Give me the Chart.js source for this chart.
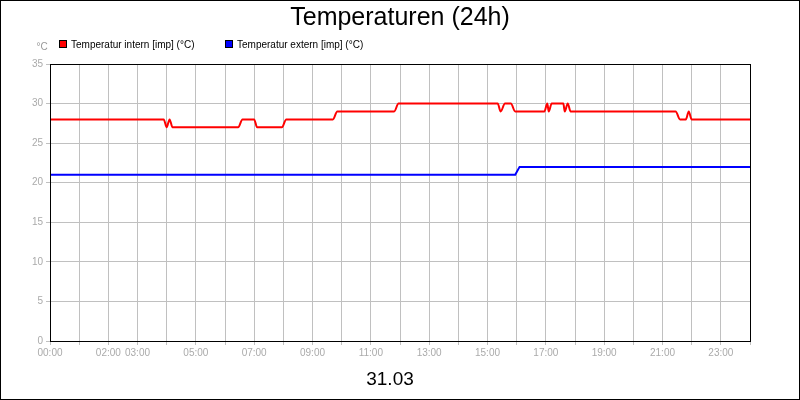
<!DOCTYPE html>
<html>
<head>
<meta charset="utf-8">
<script src="https://cdn.jsdelivr.net/npm/chart.js@4"></script>
<style>
  body { margin: 0; background: #fff; }
  #wrap { width: 800px; height: 400px; box-sizing: border-box; border: 1px solid #000; }
</style>
</head>
<body>
<div id="wrap"><canvas id="c" width="798" height="398"></canvas></div>
<script>
// hours (0-24) and temperatures
const internHours = [0, 3.9, 4.0, 4.1, 4.2, 6.45, 6.6, 7.0, 7.1, 7.95, 8.1, 9.7, 9.85, 11.8, 11.95, 15.35, 15.45, 15.6, 15.8, 15.95, 16.95, 17.05, 17.1, 17.2, 17.6, 17.65, 17.75, 17.85, 21.45, 21.6, 21.8, 21.9, 22.0, 24];
const internTemp  = [28, 28, 27, 28, 27, 27, 28, 28, 27, 27, 28, 28, 29, 29, 30, 30, 29, 30, 30, 29, 29, 30, 29, 30, 30, 29, 30, 29, 29, 28, 28, 29, 28, 28];
const externHours = [0, 15.95, 16.1, 24];
const externTemp  = [21, 21, 22, 22];
const tickHours = [0, 2, 3, 5, 7, 9, 11, 13, 15, 17, 19, 21, 23];
const legendLabels = ["Temperatur intern [imp] (°C)", "Temperatur extern [imp] (°C)"];
const colors = ["#ff0000", "#0000ff"];

const pts = (xs, ys) => xs.map((x, i) => ({ x, y: ys[i] }));
const FONT = "'Liberation Sans', Arial, sans-serif";

//draw title, legend, unit and date
const decor = {
  id: "decor",
  afterDraw(chart) {
    const ctx = chart.ctx;
    const a = chart.chartArea;
    ctx.save();
    ctx.strokeStyle = "#000";
    ctx.lineWidth = 1;
    ctx.strokeRect(a.left + 0.5, a.top + 0.5, a.right - a.left, a.bottom - a.top);
    ctx.fillStyle = "#000";
    ctx.textAlign = "center";
    ctx.textBaseline = "middle";
    ctx.font = "25px " + FONT;
    ctx.fillText("Temperaturen (24h)", 399, 17);
    ctx.font = "19px " + FONT;
    ctx.fillText("31.03", 389, 379);
    ctx.font = "10px " + FONT;
    ctx.fillStyle = "#999";
    ctx.fillText("°C", 41, 46);
    ctx.textAlign = "left";
    let x = 58;
    legendLabels.forEach((l, i) => {
      ctx.fillStyle = "#000";
      ctx.fillRect(x, 39, 8, 8);
      ctx.fillStyle = colors[i];
      ctx.fillRect(x + 1, 40, 6, 6);
      ctx.fillStyle = "#000";
      ctx.fillText(l, x + 12, 44);
      x += 166;
    });
    ctx.restore();
  },
};

new Chart(document.getElementById("c"), {
  type: "line",
  data: {
    datasets: [
      { data: pts(internHours, internTemp), borderColor: colors[0], borderWidth: 2, pointRadius: 0, cubicInterpolationMode: "monotone" },
      { data: pts(externHours, externTemp), borderColor: colors[1], borderWidth: 2, pointRadius: 0, tension: 0 },
    ],
  },
  options: {
    responsive: false,
    animation: false,
    layout: { padding: { top: 63, right: 49, left: 0, bottom: 0 } },
    plugins: { legend: { display: false }, title: { display: false }, tooltip: { enabled: false } },
    scales: {
      x: {
        type: "linear", min: 0, max: 24,
        afterFit: (s) => { s.height = 58; },
        afterBuildTicks: (s) => { s.ticks = Array.from({ length: 25 }, (_, i) => ({ value: i })); },
        ticks: {
          color: "#aaa", font: { size: 10, family: FONT }, maxRotation: 0, autoSkip: false, padding: 2,
          callback: (v) => tickHours.includes(v) ? String(v).padStart(2, "0") + ":00" : "",
        },
        grid: { color: "#c0c0c0", tickLength: 4 },
        border: { color: "#000" },
      },
      y: {
        min: 0, max: 35,
        afterFit: (s) => { s.width = 49; },
        ticks: { stepSize: 5, color: "#aaa", font: { size: 10, family: FONT }, padding: 3 },
        grid: { color: "#c0c0c0", tickLength: 4 },
        border: { color: "#000" },
      },
    },
  },
  plugins: [decor],
});
</script>
</body>
</html>
